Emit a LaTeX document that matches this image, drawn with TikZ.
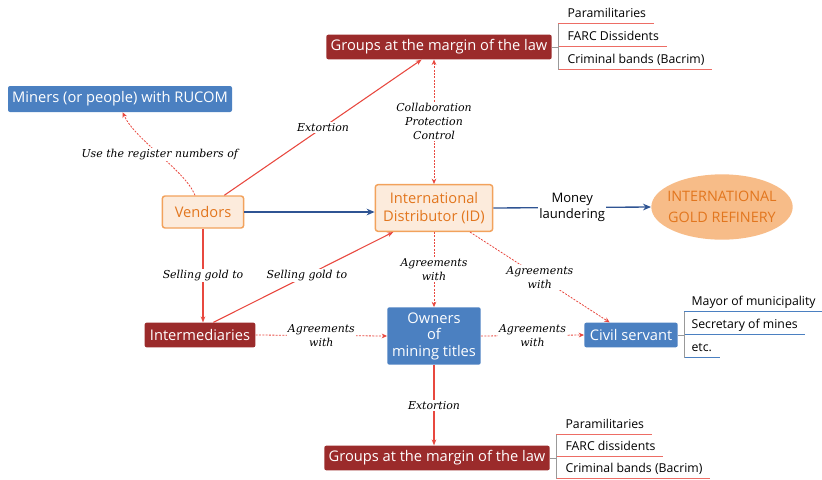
\documentclass[tikz,border=0pt]{standalone}
\usepackage{fontspec}
\newfontfamily\boxfont{Open Sans}
\newfontfamily\lblfont{DejaVu Serif}
\usetikzlibrary{arrows.meta,shapes.geometric}

\definecolor{lawred}{HTML}{9B2B2B}
\definecolor{minerblue}{HTML}{4B80C1}
\definecolor{linkred}{HTML}{E8483F}
\definecolor{flowblue}{HTML}{2F5493}
\definecolor{vendorfill}{HTML}{FCEBDC}
\definecolor{vendorline}{HTML}{F2A25C}
\definecolor{vendortext}{HTML}{E2761E}
\definecolor{refineryfill}{HTML}{F7BC88}

\tikzset{
    redbox/.style={fill=lawred, text=white, rounded corners=1.5pt, inner sep=2pt,
        minimum height=18.5pt, font=\boxfont\fontsize{11}{13}\selectfont},
    bluebox/.style={redbox, fill=minerblue},
    orangebox/.style={fill=vendorfill, draw=vendorline, line width=1.1pt, text=vendortext,
        rounded corners=2pt, inner sep=2pt, font=\boxfont\fontsize{11}{13.5}\selectfont},
    refinery/.style={ellipse, fill=refineryfill, text=vendortext, align=center,
        minimum width=106pt, minimum height=49pt, inner xsep=-3.5pt, inner ysep=0pt,
        font=\boxfont\fontsize{10.8}{15.5}\selectfont},
    item/.style={anchor=west, inner sep=2.5pt, text height=7pt, text depth=2pt,
        font=\boxfont\fontsize{9.2}{10}\selectfont},
    lbl/.style={fill=white, inner sep=1pt, align=center, text=black,
        font=\lblfont\itshape\fontsize{8.2}{10.5}\selectfont},
    moneylbl/.style={fill=white, inner sep=1pt, align=center, text=black,
        font=\boxfont\fontsize{9.8}{12.5}\selectfont},
    solidlink/.style={linkred, line width=0.8pt, -{Stealth[length=4.5pt,width=3.5pt]}},
    dashlink/.style={linkred, line width=0.6pt, dash pattern=on 1.5pt off 1pt,
        -{Stealth[length=4pt,width=3.5pt]}},
    flowlink/.style={flowblue, line width=1pt, -{Stealth[length=6pt,width=5pt]}},
    spine/.style={gray!80, line width=0.5pt},
    redline/.style={linkred!80, line width=0.6pt},
    blueline/.style={minerblue, line width=0.6pt},
}

\begin{document}
\begin{tikzpicture}[x=0.75pt,y=-0.75pt]
    \useasboundingbox (0,0) rectangle (822,479);

    % main boxes
    \node[redbox, minimum width=169pt] (gtop) at (439,47) {Groups at the margin of the law};
    \node[bluebox, minimum width=168pt, minimum height=19.5pt] (miners) at (120,99) {Miners (or people) with RUCOM};
    \node[orangebox, minimum width=61pt, minimum height=24pt] (vend) at (203,212) {Vendors};
    \node[orangebox, minimum width=88pt, minimum height=35pt, align=center] (id) at (434,208) {International\\Distributor (ID)};
    \node[refinery] (gold) at (722,207) {INTERNATIONAL\\GOLD REFINERY};
    \node[redbox, minimum width=83pt] (inter) at (200,335) {Intermediaries};
    \node[bluebox, minimum width=70pt, minimum height=43pt, align=center,
        font=\boxfont\fontsize{11}{12.4}\selectfont] (owners) at (434,336) {Owners\\of\\mining titles};
    \node[bluebox, minimum width=70pt] (civil) at (631,335) {Civil servant};
    \node[redbox, minimum width=169pt] (gbot) at (437,458) {Groups at the margin of the law};

    % list of the upper groups
    \coordinate (tspine) at (558,0);
    \node[item] (t1) at (564,14) {Paramilitaries};
    \node[item] (t2) at (564,37) {FARC Dissidents};
    \node[item] (t3) at (564,60) {Criminal bands (Bacrim)};
    \foreach \i in {1,2,3}
        \draw[redline] (t\i.south -| tspine) -- ([xshift=3pt]t\i.south east);
    \draw[spine] (t1.south -| tspine) -- (t3.south -| tspine);
    \draw[spine] (gtop.east) -- (gtop.east -| tspine);

    % list of the civil servants
    \coordinate (cspine) at (684,0);
    \node[item] (c1) at (688,302) {Mayor of municipality};
    \node[item] (c2) at (688,325) {Secretary of mines};
    \node[item] (c3) at (688,348) {etc.};
    \foreach \i in {1,2,3}
        \draw[blueline] (c\i.south -| cspine) -- ([xshift=3pt]c\i.south east);
    \draw[spine] (c1.south -| cspine) -- (c3.south -| cspine);
    \draw[spine] (civil.east) -- (civil.east -| cspine);

    % list of the lower groups
    \coordinate (bspine) at (556,0);
    \node[item] (b1) at (562,425) {Paramilitaries};
    \node[item] (b2) at (562,447) {FARC dissidents};
    \node[item] (b3) at (562,469) {Criminal bands (Bacrim)};
    \foreach \i in {1,2,3}
        \draw[redline] (b\i.south -| bspine) -- ([xshift=3pt]b\i.south east);
    \draw[spine] (b1.south -| bspine) -- (b3.south -| bspine);
    \draw[spine] (gbot.east) -- (gbot.east -| bspine);

    % connectors
    \draw[dashlink] ([xshift=-6pt]vend.north) .. controls (185,170) and (135,140) .. ([xshift=2pt]miners.south)
        node[lbl, pos=0.5] {Use the register numbers of};
    \draw[solidlink] ([xshift=16pt]vend.north) -- ([xshift=-13pt]gtop.south)
        node[lbl, midway] {Extortion};
    \draw[dashlink, {Stealth[length=4pt,width=3.5pt]}-{Stealth[length=4pt,width=3.5pt]}] (id.north |- gtop.south) -- (id.north)
        node[lbl, midway] {Collaboration\\Protection\\Control};
    \draw[flowlink] (vend.east) -- (vend.east -| id.west);
    \draw[flowlink] (id.east) -- (gold.west)
        node[moneylbl, midway] {Money\\laundering};
    \draw[solidlink] (vend.south) -- (vend.south |- inter.north)
        node[lbl, midway] {Selling gold to};
    \draw[solidlink] ([xshift=10pt]inter.north) -- ([xshift=14pt]id.south west)
        node[lbl, pos=0.52] {Selling gold to};
    \draw[dashlink] (id.south) -- (owners.north)
        node[lbl, midway] {Agreements\\with};
    \draw[dashlink] ([xshift=27pt]id.south) -- ([xshift=-16pt]civil.north)
        node[lbl, midway] {Agreements\\with};
    \draw[dashlink] (inter.east) -- (owners.west)
        node[lbl, midway] {Agreements\\with};
    \draw[dashlink] (owners.east) -- (civil.west)
        node[lbl, midway] {Agreements\\with};
    \draw[solidlink] (owners.south) -- (owners.south |- gbot.north)
        node[lbl, midway] {Extortion};
\end{tikzpicture}
\end{document}
